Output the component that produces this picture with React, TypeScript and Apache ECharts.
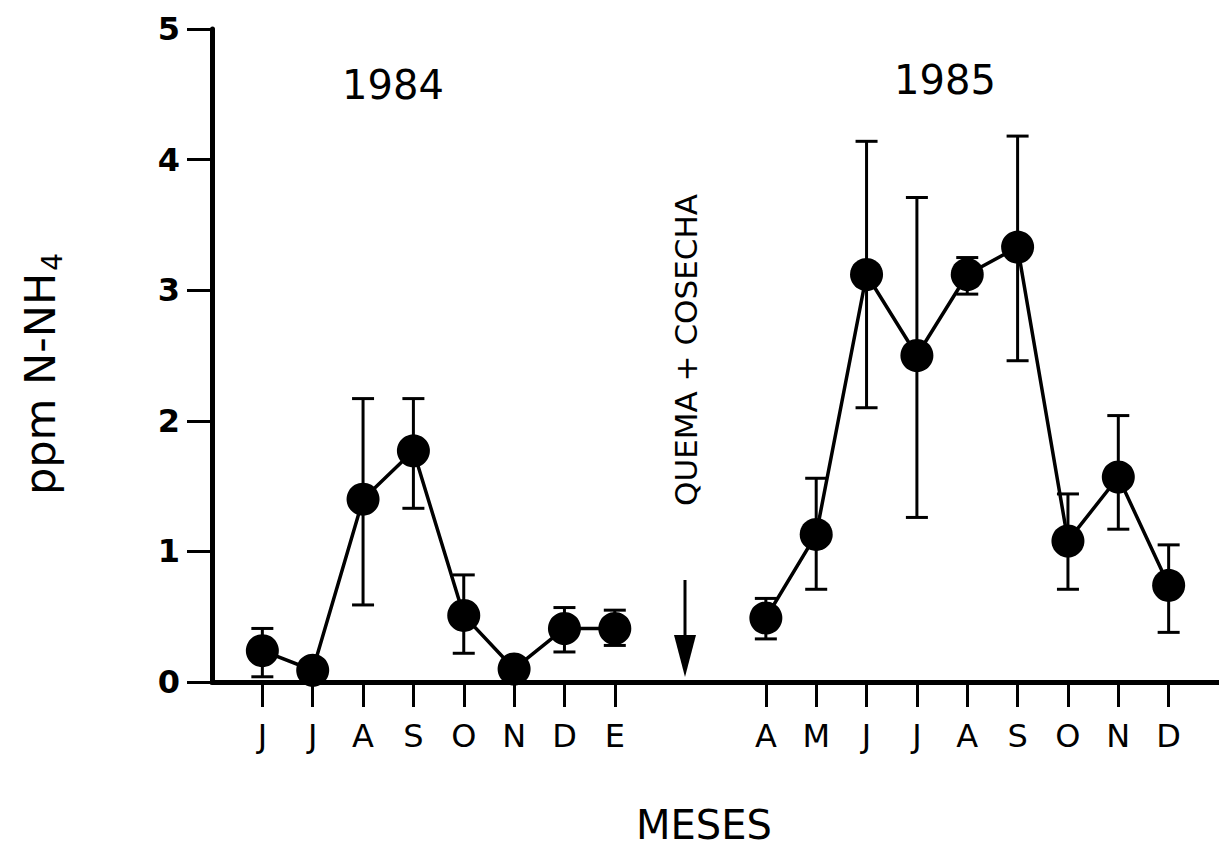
import React, { useEffect, useRef } from "react";
import * as echarts from "echarts";

// ---- data ----
const months1984 = ["J", "J", "A", "S", "O", "N", "D", "E"];
const x1984 = [0, 1, 2, 3, 4, 5, 6, 7];
const values1984 = [0.24, 0.09, 1.4, 1.77, 0.51, 0.1, 0.41, 0.41];
const high1984 = [0.41, 0.15, 2.17, 2.17, 0.82, 0.16, 0.57, 0.55];
const low1984 = [0.04, 0.05, 0.59, 1.33, 0.22, 0.06, 0.23, 0.28];

const months1985 = ["A", "M", "J", "J", "A", "S", "O", "N", "D"];
const x1985 = [10, 11, 12, 13, 14, 15, 16, 17, 18];
const values1985 = [0.49, 1.13, 3.12, 2.5, 3.12, 3.33, 1.08, 1.57, 0.74];
const high1985 = [0.64, 1.56, 4.14, 3.71, 3.25, 4.18, 1.44, 2.04, 1.05];
const low1985 = [0.33, 0.71, 2.1, 1.26, 2.97, 2.46, 0.71, 1.17, 0.38];

const yTicks = [0, 1, 2, 3, 4, 5];

const FONT = "DejaVu Sans";

export default function App() {
  const ref = useRef<HTMLDivElement>(null);
  useEffect(() => {
    if (!ref.current) return;
    const chart = echarts.init(ref.current, null, { renderer: "svg" });

    const allX = [...x1984, ...x1985];
    const labelMap: Record<number, string> = {};
    x1984.forEach((x, i) => (labelMap[x] = months1984[i]));
    x1985.forEach((x, i) => (labelMap[x] = months1985[i]));

    const errData = [
      ...x1984.map((x, i) => [x, low1984[i], high1984[i]]),
      ...x1985.map((x, i) => [x, low1985[i], high1985[i]]),
    ];

    const renderErr = (params: any, api: any) => {
      const x = api.value(0);
      const lo = api.coord([x, api.value(1)]);
      const hi = api.coord([x, api.value(2)]);
      const hw = 11;
      const style = { stroke: "#000", lineWidth: 3 };
      return {
        type: "group",
        children: [
          { type: "line", shape: { x1: lo[0], y1: lo[1], x2: hi[0], y2: hi[1] }, style },
          { type: "line", shape: { x1: lo[0] - hw, y1: lo[1], x2: lo[0] + hw, y2: lo[1] }, style },
          { type: "line", shape: { x1: hi[0] - hw, y1: hi[1], x2: hi[0] + hw, y2: hi[1] }, style },
        ],
      };
    };

    const lineSeries = (xs: number[], vs: number[]) => ({
      type: "line",
      data: xs.map((x, i) => [x, vs[i]]),
      symbol: "circle",
      symbolSize: 33,
      itemStyle: { color: "#000" },
      lineStyle: { color: "#000", width: 3.5 },
      z: 3,
    });

    chart.setOption({
      animation: false,
      backgroundColor: "#fff",
      grid: { left: 212, right: 0, top: 29, bottom: 168, outerBoundsMode: "none" },
      xAxis: {
        type: "value",
        min: -1,
        max: 19,
        splitLine: { show: false },
        axisLine: { show: true, onZero: false, lineStyle: { color: "#000", width: 5 } },
        axisTick: {
          show: true,
          customValues: allX,
          length: 25,
          lineStyle: { color: "#000", width: 3 },
        },
        axisLabel: {
          customValues: allX,
          formatter: (v: number) => labelMap[v] ?? "",
          color: "#000",
          fontFamily: FONT,
          fontSize: 32,
          margin: 38,
        },
      },
      yAxis: {
        type: "value",
        min: 0,
        max: 5,
        interval: 1,
        splitLine: { show: false },
        axisLine: { show: true, onZero: false, lineStyle: { color: "#000", width: 5 } },
        axisTick: { show: true, length: 25, lineStyle: { color: "#000", width: 3 } },
        axisLabel: {
          color: "#000",
          fontFamily: FONT,
          fontWeight: "bold",
          fontSize: 32,
          margin: 32,
          customValues: yTicks,
        },
      },
      series: [
        {
          type: "custom",
          renderItem: renderErr,
          data: errData,
          encode: { x: 0, y: [1, 2] },
          z: 2,
        },
        lineSeries(x1984, values1984),
        lineSeries(x1985, values1985),
      ],
      graphic: [
        {
          type: "text",
          x: 393,
          y: 85,
          style: { text: "1984", fontFamily: FONT, fontSize: 40, fill: "#000", align: "center", verticalAlign: "middle" },
        },
        {
          type: "text",
          x: 945,
          y: 80,
          style: { text: "1985", fontFamily: FONT, fontSize: 40, fill: "#000", align: "center", verticalAlign: "middle" },
        },
        {
          type: "text",
          x: 704,
          y: 825,
          style: { text: "MESES", fontFamily: FONT, fontSize: 40, fill: "#000", align: "center", verticalAlign: "middle" },
        },
        {
          type: "text",
          x: 686,
          y: 350,
          rotation: Math.PI / 2,
          style: { text: "QUEMA + COSECHA", fontFamily: FONT, fontSize: 31, fill: "#000", align: "center", verticalAlign: "middle" },
        },
        {
          type: "line",
          shape: { x1: 685, y1: 580, x2: 685, y2: 640 },
          style: { stroke: "#000", lineWidth: 3 },
        },
        {
          type: "polygon",
          shape: { points: [[674, 635], [696, 635], [685, 677]] },
          style: { fill: "#000" },
        },
        {
          type: "group",
          x: 40,
          y: 374,
          rotation: Math.PI / 2,
          children: [
            {
              type: "text",
              x: 0,
              y: 0,
              style: {
                text: "ppm N-NH{sub|4}",
                fontFamily: FONT,
                fontSize: 43,
                fill: "#000",
                align: "center",
                verticalAlign: "middle",
                rich: {
                  sub: { fontFamily: FONT, fontSize: 28, fill: "#000", padding: [24, 0, 0, 2] },
                },
              },
            },
          ],
        },
      ],
    });

    return () => chart.dispose();
  }, []);

  return (
    <div
      ref={ref}
      style={{ position: "fixed", left: 0, top: 0, width: 1219, height: 850 }}
    />
  );
}
